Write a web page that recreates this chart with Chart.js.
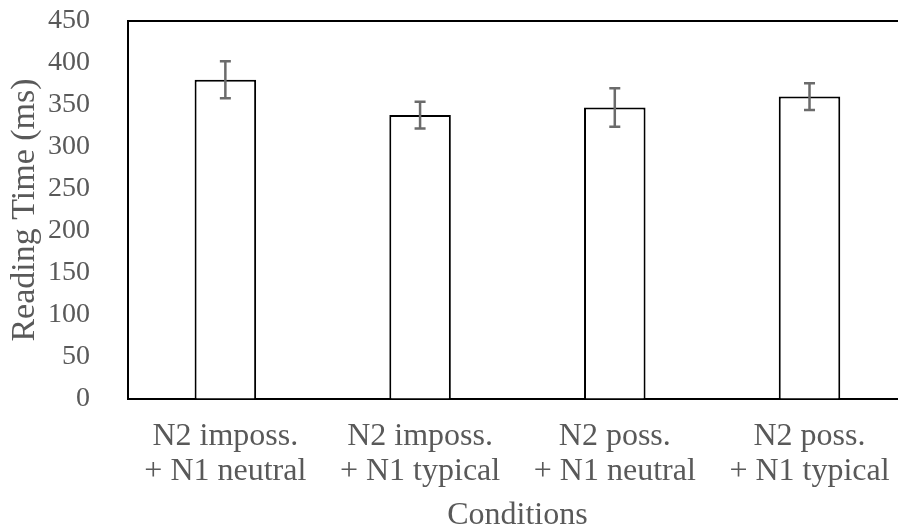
<!DOCTYPE html>
<html>
<head>
<meta charset="utf-8">
<script src="https://cdn.jsdelivr.net/npm/chart.js@4.4.1/dist/chart.umd.min.js"></script>
<style>
    html, body { margin: 0; padding: 0; background: #fff; overflow: hidden; }
    #wrap { width: 910px; height: 530px; position: relative; }
</style>
</head>
<body>
<div id="wrap"><canvas id="readingChart"></canvas></div>
<script>
// Chart data
const conditions = [
    ['N2 imposs.', '+ N1 neutral'],
    ['N2 imposs.', '+ N1 typical'],
    ['N2 poss.', '+ N1 neutral'],
    ['N2 poss.', '+ N1 typical']
];
const readingTimes = [380, 338, 347, 360];
const errorMargins = [22, 16, 23, 16];
const yTicks = [0, 50, 100, 150, 200, 250, 300, 350, 400, 450];

const serif = '"Liberation Serif", "Times New Roman", serif';
const textGray = '#595959';

// Draws the top frame line and the error bars
const errorBarPlugin = {
    id: 'errorBars',
    afterDatasetsDraw(chart) {
        const ctx = chart.ctx;
        const area = chart.chartArea;
        const yScale = chart.scales.y;
        const meta = chart.getDatasetMeta(0);

        ctx.save();
        ctx.strokeStyle = '#000';
        ctx.lineWidth = 2;
        ctx.beginPath();
        ctx.moveTo(area.left - 1, area.top);
        ctx.lineTo(area.right + 1, area.top);
        ctx.stroke();

        ctx.strokeStyle = '#6b6b6b';
        ctx.lineWidth = 2.5;
        meta.data.forEach(function(bar, i) {
            const x = bar.x;
            const top = yScale.getPixelForValue(readingTimes[i] + errorMargins[i]);
            const bottom = yScale.getPixelForValue(readingTimes[i] - errorMargins[i]);
            ctx.beginPath();
            ctx.moveTo(x, top);
            ctx.lineTo(x, bottom);
            ctx.moveTo(x - 5.5, top);
            ctx.lineTo(x + 5.5, top);
            ctx.moveTo(x - 5.5, bottom);
            ctx.lineTo(x + 5.5, bottom);
            ctx.stroke();
        });
        ctx.restore();
    }
};

const ctx = document.getElementById('readingChart').getContext('2d');
const readingChart = new Chart(ctx, {
    type: 'bar',
    data: {
        labels: conditions,
        datasets: [{
            label: 'Reading Time',
            data: readingTimes,
            backgroundColor: '#ffffff',
            borderColor: '#000000',
            borderWidth: 2,
            barPercentage: 1,
            categoryPercentage: 0.316
        }]
    },
    options: {
        responsive: true,
        maintainAspectRatio: false,
        animation: false,
        layout: {
            padding: { top: 21, right: 3, left: 0, bottom: 0 }
        },
        plugins: {
            legend: { display: false },
            tooltip: { enabled: false }
        },
        scales: {
            y: {
                min: 0,
                max: 450,
                afterBuildTicks: function(scale) {
                    scale.ticks = yTicks.map(v => ({ value: v }));
                },
                afterFit: function(scale) {
                    scale.width = 128;
                    // tick padding should not push the plot area down
                    scale.paddingTop = 0;
                    scale.paddingBottom = 0;
                },
                grid: { color: 'rgba(0,0,0,0)', drawTicks: false },
                border: { display: true, color: '#000', width: 2 },
                ticks: {
                    padding: 38,
                    autoSkip: false,
                    color: textGray,
                    font: { family: serif, size: 28 }
                },
                title: {
                    display: true,
                    text: 'Reading Time (ms)',
                    color: textGray,
                    padding: { top: 5, bottom: 0 },
                    font: { family: serif, size: 34, lineHeight: 1.2 }
                }
            },
            x: {
                afterFit: function(scale) {
                    scale.height = 131;
                },
                grid: { color: 'rgba(0,0,0,0)', drawTicks: false },
                border: { display: true, color: '#000', width: 2 },
                ticks: {
                    padding: 20,
                    color: textGray,
                    maxRotation: 0,
                    autoSkip: false,
                    font: { family: serif, size: 32, lineHeight: 1.106 }
                },
                title: {
                    display: true,
                    text: 'Conditions',
                    color: textGray,
                    padding: { top: 0, bottom: 0 },
                    font: { family: serif, size: 32, lineHeight: 0.88 }
                }
            }
        }
    },
    plugins: [errorBarPlugin]
});
</script>
</body>
</html>
